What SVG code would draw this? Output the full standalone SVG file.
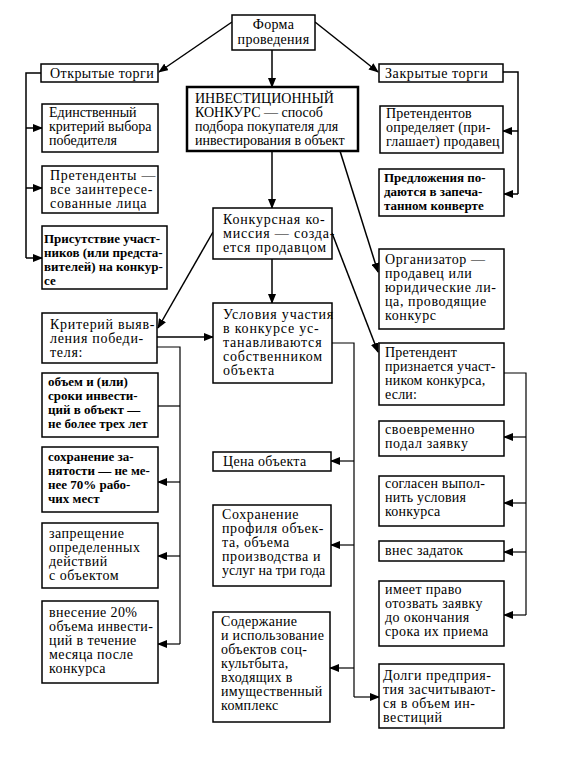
<svg xmlns="http://www.w3.org/2000/svg" width="565" height="778" viewBox="0 0 565 778">
<style>
.b{fill:#fff;stroke:#000;stroke-width:1.5}
.bb{fill:#fff;stroke:#000;stroke-width:2.5}
.t{font-family:"Liberation Serif","Times New Roman",serif;font-size:14px;fill:#000}
.tb{font-weight:bold;font-size:13px}
.c{fill:none;stroke:#000;stroke-width:1.5}
.th{stroke-width:1.2}
.a{marker-end:url(#ar)}
</style>
<defs>
<marker id="ar" markerUnits="userSpaceOnUse" markerWidth="10" markerHeight="8" refX="9" refY="4" orient="auto">
<path d="M0,0 L10,4 L0,8 Z" fill="#000"/>
</marker>
</defs>
<rect width="565" height="778" fill="#fff"/>
<g id="connectors">
<path class="c a" d="M232,22 L159,72"/>
<path class="c a" d="M272,50 V87"/>
<path class="c a" d="M315,22 L378,72"/>
<path class="c" d="M41,73 H26 V258"/>
<path class="c a" d="M26,128 H42"/>
<path class="c a" d="M26,188 H42"/>
<path class="c a" d="M26,258 H42"/>
<path class="c" d="M503,72 H518 V194"/>
<path class="c a" d="M518,131 H503"/>
<path class="c a" d="M518,194 H504"/>
<path class="c a" d="M272,151 V208"/>
<path class="c a" d="M340,151 L378,272"/>
<path class="c a" d="M213,232 L158,328"/>
<path class="c a" d="M272,259 V303"/>
<path class="c a" d="M332,233 L378,352"/>
<path class="c a" d="M157,337 H213"/>
<path class="c th" d="M157,347 H180 V644"/>
<path class="c th" d="M180,406 H158"/>
<path class="c th a" d="M180,482 H158"/>
<path class="c th a" d="M180,556 H158"/>
<path class="c th a" d="M180,644 H158"/>
<path class="c th" d="M332,343 H354 V697"/>
<path class="c th a" d="M354,461 H331"/>
<path class="c th a" d="M354,545 H331"/>
<path class="c th a" d="M354,668 H330"/>
<path class="c th a" d="M354,697 H379"/>
<path class="c th" d="M504,373 H526 V615"/>
<path class="c th a" d="M526,437 H504"/>
<path class="c th a" d="M526,503 H504"/>
<path class="c th a" d="M526,552 H504"/>
<path class="c th a" d="M526,615 H504"/>
</g>
<g id="forma"><rect class="b" x="232" y="15" width="83" height="35"/>
<text class="t" text-anchor="middle" letter-spacing="0.3"><tspan x="273.5" y="29">Форма</tspan><tspan x="273.5" y="44">проведения</tspan></text></g>
<g id="otkrytye"><rect class="b" x="41" y="64" width="117" height="18"/>
<text class="t" x="50" y="78" letter-spacing="0.45">Открытые торги</text></g>
<g id="zakrytye"><rect class="b" x="379" y="64" width="124" height="18"/>
<text class="t" x="385" y="78" letter-spacing="0.6">Закрытые торги</text></g>
<g id="invest"><rect class="bb" x="187" y="87" width="171" height="64"/>
<text class="t"><tspan x="195" y="103">ИНВЕСТИЦИОННЫЙ</tspan><tspan x="195" y="117">КОНКУРС — способ</tspan><tspan x="195" y="131">подбора покупателя для</tspan><tspan x="195" y="145">инвестирования в объект</tspan></text></g>
<g id="edinstv"><rect class="b" x="42" y="104" width="116" height="48"/>
<text class="t"><tspan x="49" y="117">Единственный</tspan><tspan x="49" y="131">критерий выбора</tspan><tspan x="49" y="145">победителя</tspan></text></g>
<g id="pretendentov"><rect class="b" x="380" y="106" width="123" height="47"/>
<text class="t" letter-spacing="0.2"><tspan x="386" y="118">Претендентов</tspan><tspan x="386" y="132">определяет (при-</tspan><tspan x="386" y="146">глашает) продавец</tspan></text></g>
<g id="pretendenty"><rect class="b" x="42" y="166" width="116" height="47"/>
<text class="t" letter-spacing="0.7"><tspan x="50" y="180">Претенденты —</tspan><tspan x="50" y="194">все заинтересе-</tspan><tspan x="50" y="208">сованные лица</tspan></text></g>
<g id="predlozhenia"><rect class="b" x="379" y="169" width="125" height="47"/>
<text class="t tb"><tspan x="384" y="182">Предложения по-</tspan><tspan x="384" y="196">даются в запеча-</tspan><tspan x="384" y="210">танном конверте</tspan></text></g>
<g id="komissia"><rect class="b" x="213" y="208" width="119" height="51"/>
<text class="t" letter-spacing="0.8"><tspan x="223" y="224">Конкурсная ко-</tspan><tspan x="223" y="238">миссия — созда-</tspan><tspan x="223" y="252">ется продавцом</tspan></text></g>
<g id="prisutstvie"><rect class="b" x="42" y="226" width="125" height="63"/>
<text class="t tb"><tspan x="44" y="243">Присутствие участ-</tspan><tspan x="44" y="257">ников (или предста-</tspan><tspan x="44" y="271">вителей) на конкур-</tspan><tspan x="44" y="285">се</tspan></text></g>
<g id="organizator"><rect class="b" x="379" y="249" width="125" height="80"/>
<text class="t" letter-spacing="0.6"><tspan x="385" y="264">Организатор —</tspan><tspan x="385" y="278">продавец или</tspan><tspan x="385" y="292">юридические ли-</tspan><tspan x="385" y="306">ца, проводящие</tspan><tspan x="385" y="320">конкурс</tspan></text></g>
<g id="usloviya"><rect class="b" x="213" y="303" width="119" height="80"/>
<text class="t" letter-spacing="0.8"><tspan x="223" y="319">Условия участия</tspan><tspan x="223" y="333">в конкурсе ус-</tspan><tspan x="223" y="347">танавливаются</tspan><tspan x="223" y="361">собственником</tspan><tspan x="223" y="375">объекта</tspan></text></g>
<g id="kriteriy"><rect class="b" x="42" y="313" width="115" height="50"/>
<text class="t" letter-spacing="0.7"><tspan x="50" y="329">Критерий выяв-</tspan><tspan x="50" y="343">ления победи-</tspan><tspan x="50" y="357">теля:</tspan></text></g>
<g id="pretendent"><rect class="b" x="379" y="343" width="125" height="62"/>
<text class="t" letter-spacing="0.2"><tspan x="385" y="357">Претендент</tspan><tspan x="385" y="371">признается участ-</tspan><tspan x="385" y="385">ником конкурса,</tspan><tspan x="385" y="399">если:</tspan></text></g>
<g id="obem"><rect class="b" x="42" y="373" width="116" height="64"/>
<text class="t tb"><tspan x="48" y="386">объем и (или)</tspan><tspan x="48" y="400">сроки инвести-</tspan><tspan x="48" y="414">ций в объект —</tspan><tspan x="48" y="428">не более трех лет</tspan></text></g>
<g id="zanyatost"><rect class="b" x="42" y="447" width="116" height="65"/>
<text class="t tb"><tspan x="48" y="461">сохранение за-</tspan><tspan x="48" y="475">нятости — не ме-</tspan><tspan x="48" y="489">нее 70% рабо-</tspan><tspan x="48" y="503">чих мест</tspan></text></g>
<g id="cena"><rect class="b" x="213" y="452" width="118" height="19"/>
<text class="t" x="223" y="466" letter-spacing="0.3">Цена объекта</text></g>
<g id="svoevremenno"><rect class="b" x="379" y="421" width="125" height="35"/>
<text class="t" letter-spacing="0.6"><tspan x="385" y="434">своевременно</tspan><tspan x="385" y="448">подал заявку</tspan></text></g>
<g id="soglasen"><rect class="b" x="379" y="476" width="125" height="50"/>
<text class="t" letter-spacing="0.2"><tspan x="385" y="488">согласен выпол-</tspan><tspan x="385" y="502">нить условия</tspan><tspan x="385" y="516">конкурса</tspan></text></g>
<g id="zapreshenie"><rect class="b" x="42" y="523" width="116" height="65"/>
<text class="t" letter-spacing="0.5"><tspan x="49" y="538">запрещение</tspan><tspan x="49" y="552">определенных</tspan><tspan x="49" y="566">действий</tspan><tspan x="49" y="580">с объектом</tspan></text></g>
<g id="profil"><rect class="b" x="213" y="505" width="118" height="81"/>
<text class="t" letter-spacing="0.6"><tspan x="222" y="519">Сохранение</tspan><tspan x="222" y="533">профиля объек-</tspan><tspan x="222" y="547">та, объема</tspan><tspan x="222" y="561">производства и</tspan><tspan x="222" y="575" letter-spacing="0">услуг на три года</tspan></text></g>
<g id="zadatok"><rect class="b" x="379" y="541" width="125" height="20"/>
<text class="t" x="385" y="555" letter-spacing="0.3">внес задаток</text></g>
<g id="pravo"><rect class="b" x="379" y="581" width="125" height="65"/>
<text class="t" letter-spacing="0.4"><tspan x="385" y="594">имеет право</tspan><tspan x="385" y="608">отозвать заявку</tspan><tspan x="385" y="622">до окончания</tspan><tspan x="385" y="636">срока их приема</tspan></text></g>
<g id="vnesenie"><rect class="b" x="42" y="601" width="116" height="82"/>
<text class="t" letter-spacing="0.4"><tspan x="49" y="617">внесение 20%</tspan><tspan x="49" y="631">объема инвести-</tspan><tspan x="49" y="645">ций в течение</tspan><tspan x="49" y="659">месяца после</tspan><tspan x="49" y="673">конкурса</tspan></text></g>
<g id="soderzhanie"><rect class="b" x="213" y="612" width="117" height="110"/>
<text class="t" letter-spacing="0.3"><tspan x="221" y="626">Содержание</tspan><tspan x="221" y="640">и использование</tspan><tspan x="221" y="654">объектов соц-</tspan><tspan x="221" y="668">культбыта,</tspan><tspan x="221" y="682">входящих в</tspan><tspan x="221" y="696">имущественный</tspan><tspan x="221" y="710">комплекс</tspan></text></g>
<g id="dolgi"><rect class="b" x="379" y="664" width="125" height="64"/>
<text class="t" letter-spacing="0.5"><tspan x="383" y="680">Долги предприя-</tspan><tspan x="383" y="694">тия засчитывают-</tspan><tspan x="383" y="708">ся в объем ин-</tspan><tspan x="383" y="722">вестиций</tspan></text></g>
</svg>
